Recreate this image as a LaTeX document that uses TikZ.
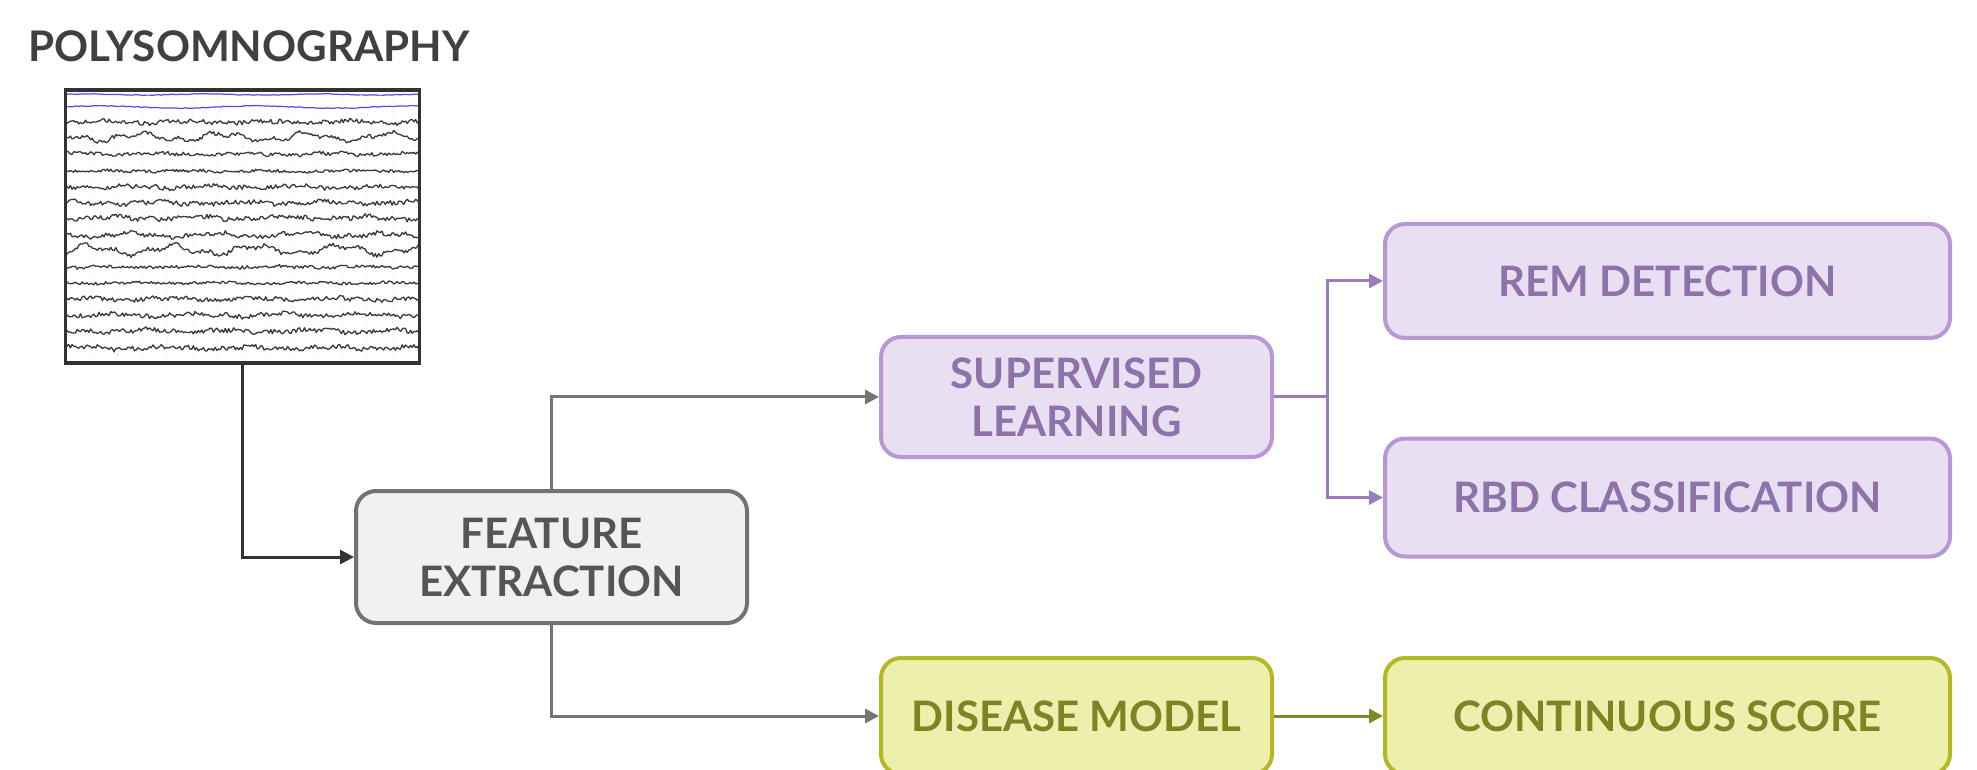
\documentclass[tikz,border=0pt]{standalone}
\usepackage{fontspec}
\setmainfont{Lato}
\usetikzlibrary{arrows.meta}

\definecolor{titlegray}{HTML}{404040}
\definecolor{psgframe}{HTML}{333333}
\definecolor{featfill}{HTML}{F1F1F1}
\definecolor{featdraw}{HTML}{727272}
\definecolor{feattext}{HTML}{555555}
\definecolor{linkgray}{HTML}{747474}
\definecolor{purpfill}{HTML}{E8E0F2}
\definecolor{purpdraw}{HTML}{B897D5}
\definecolor{purptext}{HTML}{8D73A9}
\definecolor{purplink}{HTML}{9A7DBA}
\definecolor{greenfill}{HTML}{EDEFAD}
\definecolor{greendraw}{HTML}{B4B825}
\definecolor{greentext}{HTML}{7D8424}
\definecolor{greenlink}{HTML}{7F8A2C}
\definecolor{eegblue}{HTML}{4B4BF0}
\definecolor{eegdark}{HTML}{3A3A3A}

\begin{document}
\begin{tikzpicture}[
  x=0.5pt, y=-0.5pt,
  box/.style={rounded corners=10pt, line width=2pt, align=center, inner sep=0pt,
    font=\fontsize{21}{24}\selectfont\bfseries},
  featbox/.style={box, draw=featdraw, fill=featfill, text=feattext},
  purpbox/.style={box, draw=purpdraw, fill=purpfill, text=purptext},
  greenbox/.style={box, draw=greendraw, fill=greenfill, text=greentext},
  midw/.style={minimum width=195.5pt},
  widew/.style={minimum width=282.5pt},
  psgbox/.style={draw=psgframe, line width=1.6pt, minimum width=177pt,
    minimum height=136.5pt, inner sep=0pt},
  link/.style={line width=1.5pt, -{Triangle[length=7pt,width=7pt]}},
  trace/.style={eegdark, line width=0.65pt, line join=round},
  bluetrace/.style={eegblue, line width=0.6pt, line join=round},
]
\useasboundingbox (0,0) rectangle (1977,770);
\clip (0,0) rectangle (1977,770);
\fill[white] (0,0) rectangle (1977,770);

% heading
\node[anchor=base west, inner sep=0pt, text=titlegray,
  font=\fontsize{21.1}{24}\selectfont\bfseries] (title) at (28,62) {POLYSOMNOGRAPHY};

% faint recording grid
\foreach \gx in {92,117,...,417} {
  \draw[gray!30, line width=0.5pt, dash pattern=on 0.6pt off 7.4pt] (\gx,98) -- (\gx,362);
}

% recording channels
\pgfmathsetseed{7}
\draw[bluetrace] plot[domain=67:419, samples=120]
  (\x, {94.5 + 0.3*rand + 0.6*sin(\x*3.1)});
\draw[bluetrace] plot[domain=67:419, samples=120]
  (\x, {107 + 0.4*rand + 1.2*sin(\x*2.3+40)});
\foreach \yy/\a/\s in {122/2.2/1.0, 137/2.0/3.2, 154/1.8/1.0, 171/1.5/0.5,
  187/2.2/1.0, 203/2.3/1.2, 218/2.3/1.2, 235/2.3/1.6, 250/2.0/3.6, 267/1.6/0.6,
  283/1.4/0.5, 299/2.2/1.0, 315/2.3/1.2, 331/2.3/1.2, 348/2.3/1.2} {
  \draw[trace] plot[domain=67:419, samples=210]
    (\x, {\yy + \a*rand + \s*sin(\x*4.3+\yy*37) + 0.6*\s*sin(\x*11.7+\yy*13)});
}

% recording frame
\node[psgbox] (psg) at (242.5,226.5) {};

% processing blocks
\node[featbox, midw, minimum height=66pt] (feat) at (551.5,557) {FEATURE\\EXTRACTION};
\node[purpbox, midw, minimum height=60pt] (sup) at (1076.5,397) {SUPERVISED\\LEARNING};
\node[purpbox, widew, minimum height=57pt] (rem) at (1667.5,281) {REM DETECTION};
\node[purpbox, widew, minimum height=59pt] (rbd) at (1667.5,497.5) {RBD CLASSIFICATION};
\node[greenbox, midw, minimum height=58pt] (dis) at (1076.5,716) {DISEASE MODEL};
\node[greenbox, widew, minimum height=58pt] (cont) at (1667.5,716) {CONTINUOUS SCORE};

% connectors
\draw[link, psgframe] (psg.south) |- (feat.west);
\draw[link, linkgray] (feat.north) |- (sup.west);
\draw[link, linkgray] (feat.south) |- (dis.west);
\coordinate (split) at (1327,397);
\draw[line width=1.5pt, purplink] (sup.east) -- (split);
\draw[link, purplink] (split) |- (rem.west);
\draw[link, purplink] (split) |- (rbd.west);
\draw[link, greenlink] (dis.east) -- (cont.west);
\end{tikzpicture}
\end{document}
